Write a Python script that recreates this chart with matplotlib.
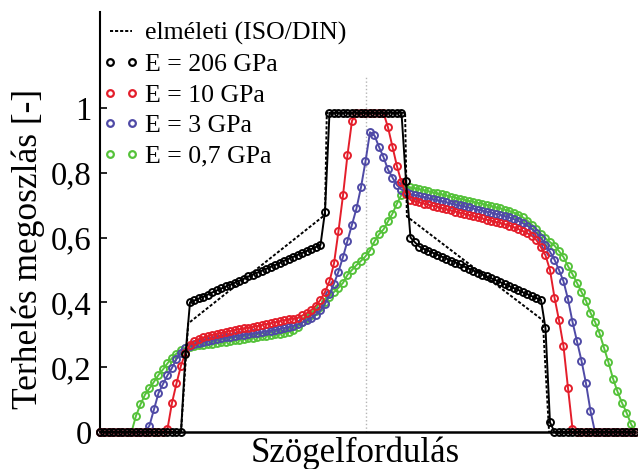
import matplotlib.pyplot as plt
from matplotlib.lines import Line2D
import numpy as np

# angle samples (arbitrary units), same grid for every series
angle = np.arange(120)

load_206 = [0, 0, 0, 0, 0, 0, 0, 0, 0, 0, 0, 0, 0, 0, 0, 0, 0, 0, 0,
            0.24, 0.400,
            0.406, 0.412, 0.418, 0.424, 0.431, 0.437, 0.443, 0.449, 0.455, 0.461,
            0.467, 0.473, 0.480, 0.486, 0.492, 0.498, 0.504, 0.510, 0.516, 0.522,
            0.529, 0.535, 0.541, 0.547, 0.553, 0.559, 0.565, 0.571,
            0.577, 0.68,
            0.985, 0.985, 0.985, 0.985, 0.985, 0.985, 0.985, 0.985, 0.985,
            0.985, 0.985, 0.985, 0.985, 0.985, 0.985, 0.985, 0.985,
            0.775, 0.60, 0.585, 0.572,
            0.565, 0.559, 0.553, 0.547, 0.541, 0.535, 0.529, 0.523, 0.517, 0.510,
            0.504, 0.498, 0.492, 0.486, 0.480, 0.474, 0.468, 0.462, 0.456, 0.450,
            0.444, 0.438, 0.431, 0.425, 0.419, 0.413,
            0.408, 0.32, 0.03,
            0, 0, 0, 0, 0, 0, 0, 0, 0, 0, 0, 0, 0, 0, 0, 0, 0, 0, 0]

load_10 = [0, 0, 0, 0, 0, 0, 0, 0, 0, 0, 0, 0, 0, 0, 0,
           0.01, 0.09, 0.15, 0.205, 0.245, 0.27,
           0.280, 0.287, 0.292, 0.296, 0.300, 0.303, 0.306, 0.309, 0.312, 0.315,
           0.317, 0.320, 0.322, 0.325, 0.327, 0.330, 0.333, 0.336, 0.339, 0.342,
           0.345, 0.348, 0.350,
           0.352, 0.36, 0.367, 0.377, 0.39, 0.408, 0.432, 0.465, 0.52, 0.62,
           0.73, 0.855, 0.96,
           0.985, 0.985, 0.985, 0.985, 0.985, 0.985, 0.985,
           0.94, 0.88, 0.82, 0.77, 0.735,
           0.716, 0.712, 0.709, 0.705, 0.702, 0.698, 0.695, 0.691, 0.687, 0.684,
           0.680, 0.677, 0.673, 0.670, 0.666, 0.663, 0.659, 0.655, 0.652, 0.648,
           0.645, 0.641, 0.637, 0.632, 0.626, 0.620, 0.613, 0.605, 0.592,
           0.57, 0.545, 0.50, 0.415, 0.345, 0.265, 0.136, 0.01,
           0, 0, 0, 0, 0, 0, 0, 0, 0, 0, 0, 0, 0, 0]

load_3 = [0, 0, 0, 0, 0, 0, 0, 0, 0, 0, 0,
          0.02, 0.07, 0.12, 0.148, 0.175, 0.198, 0.225, 0.245, 0.258, 0.266,
          0.272, 0.276, 0.279, 0.282, 0.285, 0.288, 0.290, 0.292, 0.294, 0.296,
          0.298, 0.300, 0.302, 0.304, 0.306, 0.308, 0.311, 0.313, 0.316, 0.318,
          0.321, 0.324, 0.328,
          0.332, 0.338, 0.345, 0.353, 0.362, 0.375, 0.395, 0.425, 0.458, 0.495,
          0.54, 0.59, 0.64, 0.69, 0.755, 0.835, 0.925,
          0.915, 0.88, 0.848, 0.81, 0.785, 0.762, 0.748, 0.74,
          0.734, 0.731, 0.728, 0.725, 0.721, 0.718, 0.715, 0.712, 0.709, 0.705,
          0.702, 0.699, 0.696, 0.693, 0.689, 0.686, 0.683, 0.680, 0.677, 0.673,
          0.670, 0.666, 0.662, 0.657, 0.651, 0.644, 0.636, 0.626, 0.614,
          0.598, 0.578, 0.556, 0.532, 0.50, 0.465, 0.41, 0.34, 0.28, 0.22, 0.15, 0.065,
          0, 0, 0, 0, 0, 0, 0, 0, 0, 0]

load_07 = [0, 0, 0, 0, 0, 0, 0, 0,
           0.05, 0.085, 0.115, 0.135, 0.155, 0.176, 0.193, 0.212, 0.228, 0.242,
           0.252, 0.258, 0.262,
           0.265, 0.267, 0.269, 0.271, 0.273, 0.275, 0.277, 0.279, 0.281, 0.283,
           0.285, 0.287, 0.289, 0.291, 0.293, 0.295, 0.297, 0.299, 0.301, 0.303,
           0.306, 0.309, 0.315,
           0.325, 0.338, 0.352, 0.362, 0.372, 0.385, 0.40, 0.418, 0.432, 0.445,
           0.46, 0.485, 0.50, 0.515, 0.528, 0.542, 0.56, 0.588, 0.61, 0.625,
           0.65, 0.674, 0.705, 0.732, 0.75,
           0.755, 0.752, 0.749, 0.746, 0.743, 0.739, 0.736, 0.733, 0.730, 0.726,
           0.723, 0.720, 0.717, 0.713, 0.710, 0.707, 0.704, 0.700, 0.697, 0.693,
           0.690, 0.686, 0.682, 0.677, 0.670, 0.662, 0.652, 0.64, 0.626, 0.612,
           0.598, 0.586, 0.575, 0.558, 0.54, 0.512, 0.487, 0.46, 0.432, 0.405,
           0.368, 0.34, 0.305, 0.26, 0.215, 0.165, 0.125, 0.09, 0.06, 0.025, 0.0]

# theoretical (ISO/DIN) load sharing, breakpoints
theory_x = [0, 18, 19.6, 50, 50.4, 67.8, 68.2, 98.4, 99.8, 119]
theory_y = [0, 0, 0.335, 0.67, 0.985, 0.985, 0.665, 0.345, 0, 0]

center_angle = 59.1

labels = ["E = 206 GPa", "E = 10 GPa", "E = 3 GPa", "E = 0,7 GPa"]
colors = ["#000000", "#e41e2b", "#4f4aa6", "#55c23a"]
series = [load_206, load_10, load_3, load_07]

plt.rcParams["font.family"] = ["Liberation Serif", "DejaVu Serif"]

fig = plt.figure(figsize=(6.38, 4.69), dpi=100)
ax = fig.add_axes([100 / 638, 37 / 469, 538 / 638, 420 / 469])

ax.axvline(center_angle, ymin=0, ymax=1.10 / 1.296, color="#b5b5b5",
           linestyle=":", linewidth=1.0, zorder=1)

# draw colored ones first, black on top
for values, color, z in zip(series[::-1], colors[::-1], [3, 4, 5, 6]):
    ax.plot(angle, values, color=color, linewidth=1.4, marker="o",
            markersize=5, markerfacecolor="none", markeredgewidth=1.4,
            clip_on=False, zorder=z)

ax.plot(theory_x, theory_y, color="black", linewidth=1.4,
        linestyle=(0, (1.6, 1.0)), zorder=7)

ax.set_xlim(0, 119.56)
ax.set_ylim(0, 1.296)
ax.set_xticks([])
ax.set_yticks([0, 0.2, 0.4, 0.6, 0.8, 1])
ax.set_yticklabels(["0", "0,2", "0,4", "0,6", "0,8", "1"])
ax.tick_params(axis="y", direction="in", length=5, width=1.2, labelsize=23.5, pad=6)

for side in ["top", "right"]:
    ax.spines[side].set_visible(False)
ax.spines["left"].set_linewidth(1.5)
ax.spines["bottom"].set_linewidth(1.8)

ax.set_ylabel("Terhelés megoszlás [-]", fontsize=25.5)
ax.yaxis.set_label_coords(-0.102, 0.436)
ax.set_xlabel("Szögelfordulás", fontsize=25)
ax.xaxis.set_label_coords(0.474, -0.01)
ax.xaxis.label.set_va("top")

handles = [Line2D([], [], color="black", linewidth=1.4, linestyle=(0, (1.6, 1.0)))]
for color in colors:
    handles.append(Line2D([], [], color=color, linestyle="none", marker="o",
                          markersize=4.8, markerfacecolor="none", markeredgewidth=1.6))
ax.legend(handles, ["elméleti (ISO/DIN)"] + labels, loc="upper left",
          bbox_to_anchor=(-0.0154, 1.001), frameon=False, fontsize=18.6,
          numpoints=2, handlelength=1.45, handletextpad=0.22, labelspacing=0.29,
          borderaxespad=0.0)

fig.savefig("out.png", dpi=100)
